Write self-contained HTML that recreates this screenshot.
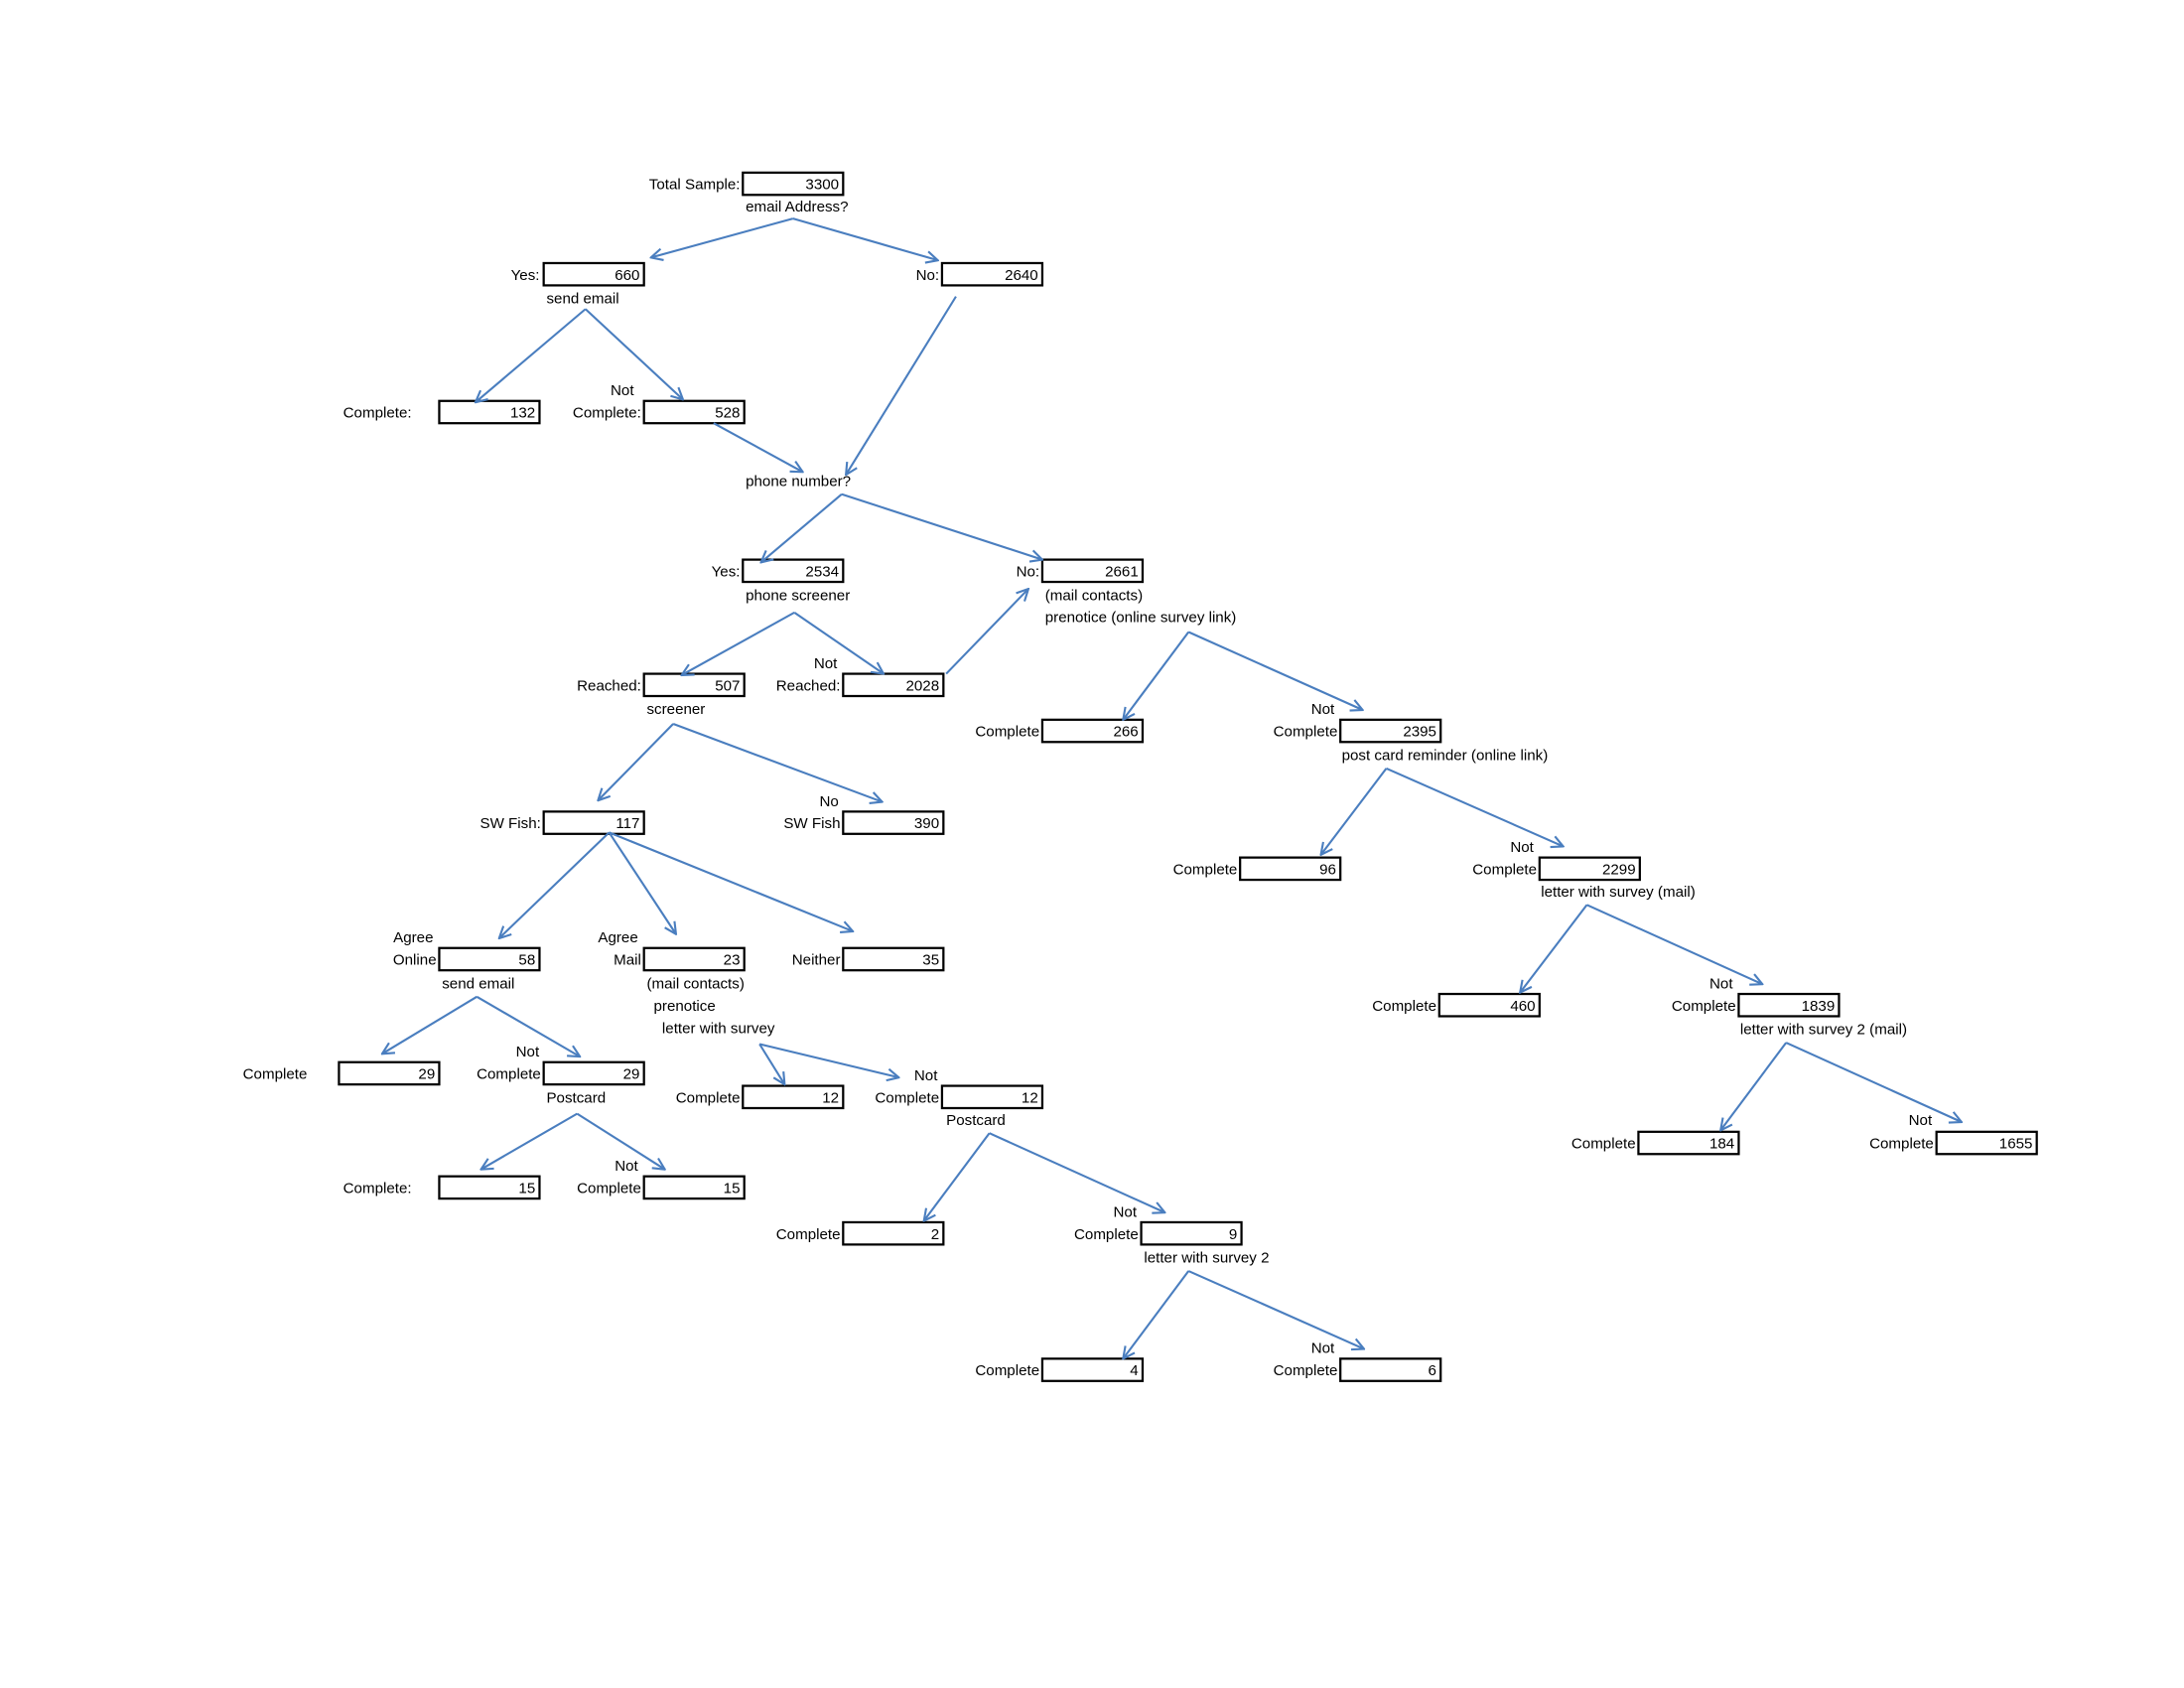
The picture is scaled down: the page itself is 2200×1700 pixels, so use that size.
<!DOCTYPE html>
<html><head><meta charset="utf-8"><style>
html,body{margin:0;padding:0;background:#fff;}
svg{display:block;}
text{font-family:"Liberation Sans","DejaVu Sans",sans-serif;font-size:10.8px;fill:#000;}
.b{fill:#fff;stroke:#000;stroke-width:1.6;}
.a{stroke:#4a7ebf;stroke-width:1.5;fill:none;}
</style></head><body>
<svg width="2200" height="1700" viewBox="0 0 2200 1700" xmlns="http://www.w3.org/2000/svg">
<defs>
<marker id="m" viewBox="0 0 12 12" refX="11" refY="6" markerWidth="10" markerHeight="10" markerUnits="userSpaceOnUse" orient="auto">
<path d="M1,1 L11,6 L1,11" fill="none" stroke="#4a7ebf" stroke-width="1.8"/>
</marker>
</defs>
<g transform="translate(0.5,0) scale(1.403,1.402)">
<g>
<rect class="b" x="533" y="124" width="72" height="16"/><text x="602" y="136" text-anchor="end">3300</text>
<rect class="b" x="390" y="189" width="72" height="16"/><text x="459" y="201" text-anchor="end">660</text>
<rect class="b" x="676" y="189" width="72" height="16"/><text x="745" y="201" text-anchor="end">2640</text>
<rect class="b" x="315" y="288" width="72" height="16"/><text x="384" y="300" text-anchor="end">132</text>
<rect class="b" x="462" y="288" width="72" height="16"/><text x="531" y="300" text-anchor="end">528</text>
<rect class="b" x="533" y="402" width="72" height="16"/><text x="602" y="414" text-anchor="end">2534</text>
<rect class="b" x="748" y="402" width="72" height="16"/><text x="817" y="414" text-anchor="end">2661</text>
<rect class="b" x="462" y="484" width="72" height="16"/><text x="531" y="496" text-anchor="end">507</text>
<rect class="b" x="605" y="484" width="72" height="16"/><text x="674" y="496" text-anchor="end">2028</text>
<rect class="b" x="748" y="517" width="72" height="16"/><text x="817" y="529" text-anchor="end">266</text>
<rect class="b" x="962" y="517" width="72" height="16"/><text x="1031" y="529" text-anchor="end">2395</text>
<rect class="b" x="390" y="583" width="72" height="16"/><text x="459" y="595" text-anchor="end">117</text>
<rect class="b" x="605" y="583" width="72" height="16"/><text x="674" y="595" text-anchor="end">390</text>
<rect class="b" x="890" y="616" width="72" height="16"/><text x="959" y="628" text-anchor="end">96</text>
<rect class="b" x="1105" y="616" width="72" height="16"/><text x="1174" y="628" text-anchor="end">2299</text>
<rect class="b" x="315" y="681" width="72" height="16"/><text x="384" y="693" text-anchor="end">58</text>
<rect class="b" x="462" y="681" width="72" height="16"/><text x="531" y="693" text-anchor="end">23</text>
<rect class="b" x="605" y="681" width="72" height="16"/><text x="674" y="693" text-anchor="end">35</text>
<rect class="b" x="1033" y="714" width="72" height="16"/><text x="1102" y="726" text-anchor="end">460</text>
<rect class="b" x="1248" y="714" width="72" height="16"/><text x="1317" y="726" text-anchor="end">1839</text>
<rect class="b" x="243" y="763" width="72" height="16"/><text x="312" y="775" text-anchor="end">29</text>
<rect class="b" x="390" y="763" width="72" height="16"/><text x="459" y="775" text-anchor="end">29</text>
<rect class="b" x="533" y="780" width="72" height="16"/><text x="602" y="792" text-anchor="end">12</text>
<rect class="b" x="676" y="780" width="72" height="16"/><text x="745" y="792" text-anchor="end">12</text>
<rect class="b" x="1176" y="813" width="72" height="16"/><text x="1245" y="825" text-anchor="end">184</text>
<rect class="b" x="1390" y="813" width="72" height="16"/><text x="1459" y="825" text-anchor="end">1655</text>
<rect class="b" x="315" y="845" width="72" height="16"/><text x="384" y="857" text-anchor="end">15</text>
<rect class="b" x="462" y="845" width="72" height="16"/><text x="531" y="857" text-anchor="end">15</text>
<rect class="b" x="605" y="878" width="72" height="16"/><text x="674" y="890" text-anchor="end">2</text>
<rect class="b" x="819" y="878" width="72" height="16"/><text x="888" y="890" text-anchor="end">9</text>
<rect class="b" x="748" y="976" width="72" height="16"/><text x="817" y="988" text-anchor="end">4</text>
<rect class="b" x="962" y="976" width="72" height="16"/><text x="1031" y="988" text-anchor="end">6</text>
</g>
<g text-anchor="end">
<text x="531" y="136">Total Sample:</text>
<text x="387" y="201">Yes:</text>
<text x="674" y="201">No:</text>
<text x="460" y="300">Complete:</text>
<text x="531" y="414">Yes:</text>
<text x="746" y="414">No:</text>
<text x="460" y="496">Reached:</text>
<text x="603" y="496">Reached:</text>
<text x="746" y="529">Complete</text>
<text x="960" y="529">Complete</text>
<text x="388" y="595">SW Fish:</text>
<text x="603" y="595">SW Fish</text>
<text x="888" y="628">Complete</text>
<text x="1103" y="628">Complete</text>
<text x="313" y="693">Online</text>
<text x="460" y="693">Mail</text>
<text x="603" y="693">Neither</text>
<text x="1031" y="726">Complete</text>
<text x="1246" y="726">Complete</text>
<text x="388" y="775">Complete</text>
<text x="531" y="792">Complete</text>
<text x="674" y="792">Complete</text>
<text x="1174" y="825">Complete</text>
<text x="1388" y="825">Complete</text>
<text x="460" y="857">Complete</text>
<text x="603" y="890">Complete</text>
<text x="817" y="890">Complete</text>
<text x="746" y="988">Complete</text>
<text x="960" y="988">Complete</text>
</g>
<g>
<text x="535" y="152">email Address?</text>
<text x="392" y="218">send email</text>
<text x="246" y="300">Complete:</text>
<text x="438" y="284">Not</text>
<text x="535" y="349">phone number?</text>
<text x="535" y="431">phone screener</text>
<text x="750" y="431">(mail contacts)</text>
<text x="750" y="447">prenotice (online survey link)</text>
<text x="464" y="513">screener</text>
<text x="584" y="480">Not</text>
<text x="941" y="513">Not</text>
<text x="963" y="546">post card reminder (online link)</text>
<text x="588" y="579">No</text>
<text x="1084" y="612">Not</text>
<text x="1106" y="644">letter with survey (mail)</text>
<text x="282" y="677">Agree</text>
<text x="429" y="677">Agree</text>
<text x="317" y="710">send email</text>
<text x="464" y="710">(mail contacts)</text>
<text x="469" y="726">prenotice</text>
<text x="475" y="742">letter with survey</text>
<text x="1227" y="710">Not</text>
<text x="1249" y="743">letter with survey 2 (mail)</text>
<text x="174" y="775">Complete</text>
<text x="370" y="759">Not</text>
<text x="392" y="792">Postcard</text>
<text x="656" y="776">Not</text>
<text x="679" y="808">Postcard</text>
<text x="1370" y="808">Not</text>
<text x="246" y="857">Complete:</text>
<text x="441" y="841">Not</text>
<text x="799" y="874">Not</text>
<text x="821" y="907">letter with survey 2</text>
<text x="941" y="972">Not</text>
</g>
<g>
<line class="a" marker-end="url(#m)" x1="569" y1="157" x2="467" y2="185"/>
<line class="a" marker-end="url(#m)" x1="569" y1="157" x2="673" y2="187"/>
<line class="a" marker-end="url(#m)" x1="420" y1="222" x2="341" y2="289"/>
<line class="a" marker-end="url(#m)" x1="420" y1="222" x2="490" y2="287"/>
<line class="a" marker-end="url(#m)" x1="686" y1="213" x2="607" y2="341"/>
<line class="a" marker-end="url(#m)" x1="512" y1="304" x2="576" y2="339"/>
<line class="a" marker-end="url(#m)" x1="604" y1="355" x2="546" y2="404"/>
<line class="a" marker-end="url(#m)" x1="604" y1="355" x2="748" y2="402"/>
<line class="a" marker-end="url(#m)" x1="570" y1="440" x2="489" y2="485"/>
<line class="a" marker-end="url(#m)" x1="570" y1="440" x2="634" y2="484"/>
<line class="a" marker-end="url(#m)" x1="679" y1="484" x2="738" y2="423"/>
<line class="a" marker-end="url(#m)" x1="853" y1="454" x2="806" y2="517"/>
<line class="a" marker-end="url(#m)" x1="853" y1="454" x2="978" y2="510"/>
<line class="a" marker-end="url(#m)" x1="483" y1="520" x2="429" y2="575"/>
<line class="a" marker-end="url(#m)" x1="483" y1="520" x2="633" y2="576"/>
<line class="a" marker-end="url(#m)" x1="995" y1="552" x2="948" y2="614"/>
<line class="a" marker-end="url(#m)" x1="995" y1="552" x2="1122" y2="608"/>
<line class="a" marker-end="url(#m)" x1="437" y1="598" x2="358" y2="674"/>
<line class="a" marker-end="url(#m)" x1="437" y1="598" x2="485" y2="671"/>
<line class="a" marker-end="url(#m)" x1="437" y1="598" x2="612" y2="669"/>
<line class="a" marker-end="url(#m)" x1="1139" y1="650" x2="1091" y2="713"/>
<line class="a" marker-end="url(#m)" x1="1139" y1="650" x2="1265" y2="707"/>
<line class="a" marker-end="url(#m)" x1="342" y1="716" x2="274" y2="757"/>
<line class="a" marker-end="url(#m)" x1="342" y1="716" x2="416" y2="759"/>
<line class="a" marker-end="url(#m)" x1="545" y1="750" x2="563" y2="779"/>
<line class="a" marker-end="url(#m)" x1="545" y1="750" x2="645" y2="774"/>
<line class="a" marker-end="url(#m)" x1="1282" y1="749" x2="1235" y2="812"/>
<line class="a" marker-end="url(#m)" x1="1282" y1="749" x2="1408" y2="806"/>
<line class="a" marker-end="url(#m)" x1="414" y1="800" x2="345" y2="840"/>
<line class="a" marker-end="url(#m)" x1="414" y1="800" x2="477" y2="840"/>
<line class="a" marker-end="url(#m)" x1="710" y1="814" x2="663" y2="877"/>
<line class="a" marker-end="url(#m)" x1="710" y1="814" x2="836" y2="871"/>
<line class="a" marker-end="url(#m)" x1="853" y1="913" x2="806" y2="976"/>
<line class="a" marker-end="url(#m)" x1="853" y1="913" x2="979" y2="969"/>
</g>
</g>
</svg>
</body></html>
